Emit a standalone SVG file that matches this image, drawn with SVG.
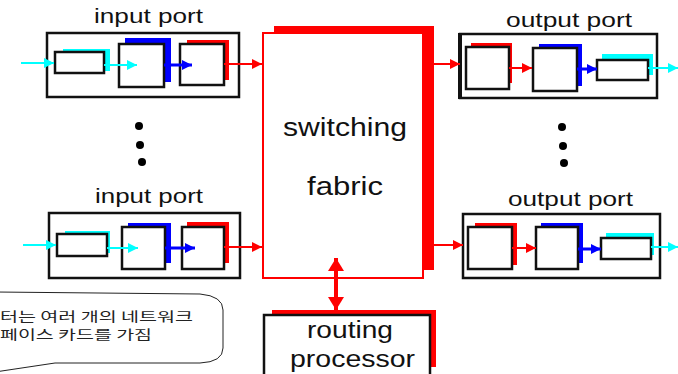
<svg xmlns="http://www.w3.org/2000/svg" width="678" height="374" viewBox="0 0 678 374">
<style>
.lbl{font-family:"Liberation Sans",Arial,sans-serif;fill:#111;}
.port{fill:none;stroke:#111;stroke-width:2.5;}
.box{fill:#fff;stroke:#111;stroke-width:2.5;}
.cy{fill:#00ffff;}
.bl{fill:#0000ff;}
.rd{fill:#ff0000;}
.ac{stroke:#00ffff;stroke-width:2;fill:none;}
.ab{stroke:#0000ff;stroke-width:3;fill:none;}
.ar{stroke:#ff0000;stroke-width:2;fill:none;}
.kr{font-family:"Noto Sans CJK KR","Liberation Sans",sans-serif;fill:#222;font-size:13px;}
</style>
<defs>
<marker id="mc" markerUnits="userSpaceOnUse" markerWidth="12" markerHeight="12" refX="10" refY="5" orient="auto"><path d="M0,0 L10,5 L0,10 z" fill="#00ffff"/></marker>
<marker id="mb" markerUnits="userSpaceOnUse" markerWidth="12" markerHeight="12" refX="10" refY="5" orient="auto"><path d="M0,0 L10,5 L0,10 z" fill="#0000ff"/></marker>
<marker id="mr" markerUnits="userSpaceOnUse" markerWidth="12" markerHeight="12" refX="10" refY="5" orient="auto"><path d="M0,0 L10,5 L0,10 z" fill="#ff0000"/></marker>
<marker id="mr2" markerUnits="userSpaceOnUse" markerWidth="18" markerHeight="18" refX="13" refY="8" orient="auto-start-reverse"><path d="M0,0 L13,8 L0,16 z" fill="#ff0000"/></marker>
</defs>

<g id="input-port-1">
<text class="lbl" x="94" y="23" font-size="21" textLength="109" lengthAdjust="spacingAndGlyphs">input port</text>
<rect class="port" x="47" y="33" width="192" height="64"/>
<rect class="cy" x="63" y="49" width="47" height="22"/>
<rect class="box" x="55" y="52" width="49" height="21"/>
<rect class="bl" x="125" y="38" width="46" height="44"/>
<rect class="box" x="119" y="44" width="45" height="43"/>
<rect class="rd" x="187" y="40" width="42" height="40"/>
<rect class="box" x="180" y="44" width="44" height="41"/>
</g>

<g id="input-port-2">
<text class="lbl" x="95" y="203" font-size="21" textLength="108" lengthAdjust="spacingAndGlyphs">input port</text>
<rect class="port" x="49" y="213" width="191" height="65"/>
<rect class="cy" x="65" y="231" width="45" height="22"/>
<rect class="box" x="57" y="234" width="50" height="22"/>
<rect class="bl" x="128" y="223" width="43" height="40"/>
<rect class="box" x="122" y="227" width="43" height="42"/>
<rect class="rd" x="187" y="222" width="42" height="41"/>
<rect class="box" x="182" y="227" width="42" height="42"/>
</g>

<g id="input-dots">
<circle cx="139" cy="126" r="4" fill="#000"/>
<circle cx="140" cy="145" r="4" fill="#000"/>
<circle cx="142" cy="162" r="4" fill="#000"/>
</g>

<g id="switching-fabric">
<rect class="rd" x="274" y="26" width="160" height="244"/>
<rect x="263" y="33" width="160" height="245" fill="#fff" stroke="#ff0000" stroke-width="2"/>
<text class="lbl" x="283" y="136" font-size="25" textLength="124" lengthAdjust="spacingAndGlyphs">switching</text>
<text class="lbl" x="307" y="195" font-size="25" textLength="76" lengthAdjust="spacingAndGlyphs">fabric</text>
</g>

<g id="output-port-1">
<text class="lbl" x="506" y="27" font-size="21" textLength="126" lengthAdjust="spacingAndGlyphs">output port</text>
<rect class="port" x="460" y="34" width="197" height="64"/>
<line x1="460" y1="33" x2="460" y2="99" stroke="#111" stroke-width="4"/>
<rect class="rd" x="471" y="43" width="41" height="40"/>
<rect class="box" x="466" y="47" width="43" height="42"/>
<rect class="bl" x="539" y="44" width="43" height="42"/>
<rect class="box" x="533" y="48" width="44" height="43"/>
<rect class="cy" x="602" y="54" width="51" height="21"/>
<rect class="box" x="597" y="60" width="51" height="20"/>
</g>

<g id="output-port-2">
<text class="lbl" x="508" y="206" font-size="21" textLength="125" lengthAdjust="spacingAndGlyphs">output port</text>
<rect class="port" x="463" y="214" width="197" height="64"/>
<rect class="rd" x="475" y="223" width="42" height="42"/>
<rect class="box" x="468" y="227" width="44" height="42"/>
<rect class="bl" x="541" y="223" width="42" height="40"/>
<rect class="box" x="536" y="227" width="42" height="42"/>
<rect class="cy" x="606" y="233" width="48" height="22"/>
<rect class="box" x="601" y="238" width="50" height="21"/>
</g>

<g id="output-dots">
<circle cx="562" cy="127" r="4" fill="#000"/>
<circle cx="563" cy="146" r="4" fill="#000"/>
<circle cx="564" cy="163" r="4" fill="#000"/>
</g>

<g id="routing-processor">
<rect class="rd" x="272" y="310" width="164" height="57"/>
<rect class="box" x="264" y="315" width="166" height="62"/>
<text class="lbl" x="307" y="338" font-size="23" textLength="86" lengthAdjust="spacingAndGlyphs">routing</text>
<text class="lbl" x="290" y="367" font-size="23" textLength="125" lengthAdjust="spacingAndGlyphs">processor</text>
</g>

<g id="callout">
<path d="M-5,292 L200,294 Q223,296 223,310 L223,348 Q223,362 200,363 L55,363 L-5,372" fill="#fff" stroke="#222" stroke-width="1"/>
<text class="kr" x="0" y="321" textLength="193" lengthAdjust="spacingAndGlyphs">터는 여러 개의 네트워크</text>
<text class="kr" x="0" y="339" textLength="152" lengthAdjust="spacingAndGlyphs">페이스 카드를 가짐</text>
</g>

<g id="connectors">
<line class="ac" x1="21" y1="63" x2="54" y2="63" marker-end="url(#mc)"/>
<line class="ac" x1="104" y1="65" x2="137" y2="65" marker-end="url(#mc)"/>
<line class="ab" x1="164" y1="65" x2="192" y2="65" marker-end="url(#mb)"/>
<line class="ar" x1="224" y1="64" x2="262" y2="64" marker-end="url(#mr)"/>

<line class="ac" x1="23" y1="245" x2="56" y2="245" marker-end="url(#mc)"/>
<line class="ac" x1="107" y1="248" x2="138" y2="248" marker-end="url(#mc)"/>
<line class="ab" x1="165" y1="248" x2="195" y2="248" marker-end="url(#mb)"/>
<line class="ar" x1="224" y1="247" x2="262" y2="247" marker-end="url(#mr)"/>

<line class="ar" x1="434" y1="64" x2="460" y2="64" marker-end="url(#mr)"/>
<line class="ar" x1="509" y1="68" x2="532" y2="68" marker-end="url(#mr)"/>
<line class="ab" x1="577" y1="69" x2="597" y2="69" marker-end="url(#mb)"/>
<line class="ac" x1="648" y1="68" x2="678" y2="68" marker-end="url(#mc)"/>

<line class="ar" x1="434" y1="245" x2="463" y2="245" marker-end="url(#mr)"/>
<line class="ar" x1="512" y1="248" x2="536" y2="248" marker-end="url(#mr)"/>
<line class="ab" x1="578" y1="249" x2="601" y2="249" marker-end="url(#mb)"/>
<line class="ac" x1="651" y1="247" x2="678" y2="247" marker-end="url(#mc)"/>

<line x1="336" y1="258" x2="336" y2="310" stroke="#ff0000" stroke-width="4" marker-start="url(#mr2)" marker-end="url(#mr2)"/>
</g>
</svg>
